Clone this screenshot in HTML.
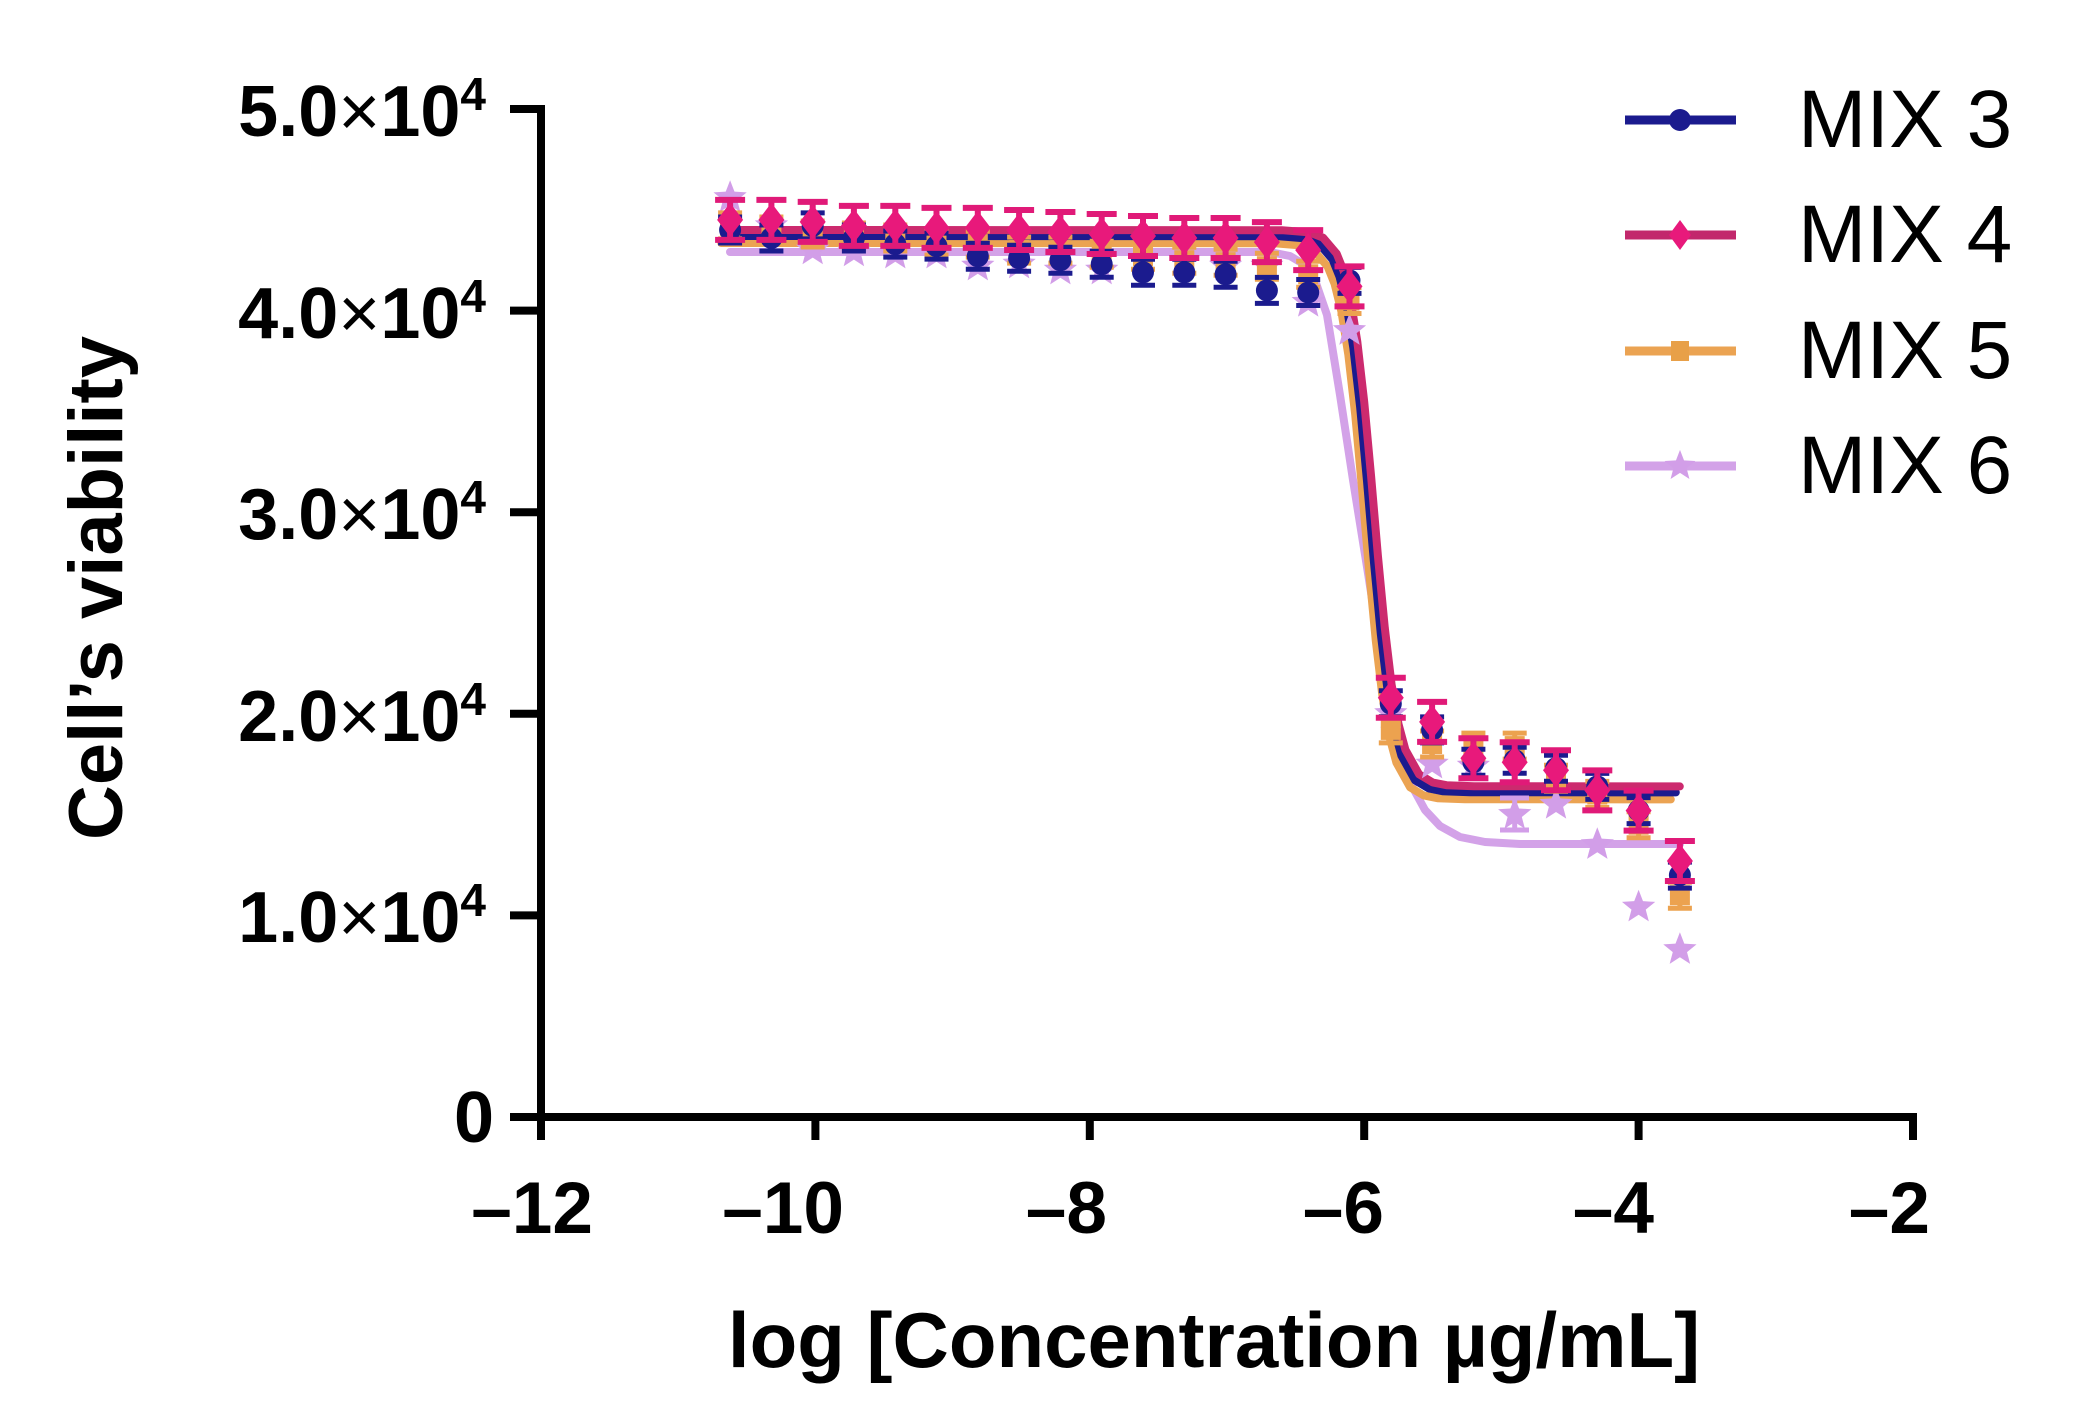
<!DOCTYPE html>
<html>
<head>
<meta charset="utf-8">
<style>
html,body{margin:0;padding:0;background:#fff;}
svg{display:block;}
text{font-family:"Liberation Sans",Arial,sans-serif;fill:#000;}
</style>
</head>
<body>
<svg width="2078" height="1427" viewBox="0 0 2078 1427" xmlns="http://www.w3.org/2000/svg">
<defs>
  <g id="m3">
    <path d="M0,-13V13M-12,-13H12M-12,13H12" stroke="#1b1b8e" stroke-width="5" fill="none"/>
    <circle r="11" fill="#1b1b8e"/>
  </g>
  <g id="m4">
    <path d="M0,-20V20M-15,-20H15M-15,20H15" stroke="#e01a78" stroke-width="6" fill="none"/>
    <path d="M0,-17L13,0L0,17L-13,0Z" fill="#e8197b"/>
  </g>
  <g id="m5">
    <path d="M0,-13V13M-12,-13H12M-12,13H12" stroke="#eca24f" stroke-width="5" fill="none"/>
    <rect x="-10" y="-10" width="20" height="20" fill="#eca24f"/>
  </g>
  <g id="m6">
    <path transform="scale(1.25)" d="M0,-14 L3.5,-4.9 L13.3,-4.3 L5.7,1.9 L8.2,11.3 L0,6 L-8.2,11.3 L-5.7,1.9 L-13.3,-4.3 L-3.5,-4.9 Z" fill="#d29ee8"/>
  </g>
  <path id="curveA" d="M730.3,230.0 L1281.9,230.2 L1309.3,232.4 L1323.0,237.6 L1336.7,253.7 L1343.6,270.9 L1350.5,298.9 L1357.3,341.6 L1364.2,401.7 L1371.1,476.3 L1377.9,555.7 L1384.8,627.9 L1391.6,684.6 L1398.5,724.1 L1405.4,749.7 L1419.1,774.3 L1432.8,782.5 L1446.5,785.2 L1474.0,786.2 L1679.8,786.4"/>
</defs>

<!-- Axes -->
<g stroke="#000" stroke-width="8" fill="none" stroke-linejoin="miter">
  <path d="M510,109 H541 V1140"/>
  <path d="M510,1117 H1913 V1140"/>
  <path d="M510,310.6 H541 M510,512.2 H541 M510,713.8 H541 M510,915.4 H541"/>
  <path d="M815.4,1117 V1140 M1089.8,1117 V1140 M1364.2,1117 V1140 M1638.6,1117 V1140"/>
</g>

<!-- Y tick labels -->
<g font-size="72" font-weight="bold" text-anchor="end">
  <text x="486" y="136">5.0<tspan font-weight="normal">×</tspan>10<tspan font-size="46" dy="-26">4</tspan></text>
  <text x="486" y="338">4.0<tspan font-weight="normal">×</tspan>10<tspan font-size="46" dy="-26">4</tspan></text>
  <text x="486" y="539">3.0<tspan font-weight="normal">×</tspan>10<tspan font-size="46" dy="-26">4</tspan></text>
  <text x="486" y="741">2.0<tspan font-weight="normal">×</tspan>10<tspan font-size="46" dy="-26">4</tspan></text>
  <text x="486" y="942">1.0<tspan font-weight="normal">×</tspan>10<tspan font-size="46" dy="-26">4</tspan></text>
  <text x="494" y="1142">0</text>
</g>

<!-- X tick labels -->
<g font-size="73" font-weight="bold" text-anchor="end">
  <text x="593" y="1233">–12</text>
  <text x="844" y="1233">–10</text>
  <text x="1107" y="1233">–8</text>
  <text x="1384" y="1233">–6</text>
  <text x="1654" y="1233">–4</text>
  <text x="1930" y="1233">–2</text>
</g>

<!-- Axis titles -->
<text x="1214" y="1367" font-size="78" font-weight="bold" text-anchor="middle">log [Concentration µg/mL]</text>
<text transform="translate(122,588) rotate(-90)" font-size="76" font-weight="bold" text-anchor="middle">Cell’s viability</text>

<!-- Curves -->
<g fill="none" stroke-width="8" stroke-linejoin="round" stroke-linecap="round">
  <polyline stroke="#d3a2e8" points="730,252 1270,252 1290,256 1305,265 1315,280 1327,315 1340,395 1353,480 1367,567 1380,650 1390,710 1400,752 1413,788 1425,810 1440,826 1460,837 1485,842 1520,844 1680,844"/>
  <use href="#curveA" stroke="#eba352" transform="translate(-9,13)"/>
  <use href="#curveA" stroke="#1b1b8e" transform="translate(-4,6)"/>
  <use href="#curveA" stroke="#cc2a6e"/>
</g>

<!-- MIX 6 points -->
<g>
  <path d="M1514.7,798 V830 M1500,798 H1529 M1500,830 H1529" stroke="#d29ee8" stroke-width="5"/>
  <use href="#m6" x="730.1" y="197.7"/>
  <use href="#m6" x="771.4" y="225.9"/>
  <use href="#m6" x="812.7" y="250.1"/>
  <use href="#m6" x="853.9" y="252.1"/>
  <use href="#m6" x="895.3" y="254.2"/>
  <use href="#m6" x="936.5" y="254.2"/>
  <use href="#m6" x="977.8" y="266.2"/>
  <use href="#m6" x="1019.1" y="264.2"/>
  <use href="#m6" x="1060.4" y="270.3"/>
  <use href="#m6" x="1101.7" y="270.3"/>
  <use href="#m6" x="1143.0" y="258.2"/>
  <use href="#m6" x="1184.3" y="260.2"/>
  <use href="#m6" x="1225.6" y="266.2"/>
  <use href="#m6" x="1266.9" y="266.2"/>
  <use href="#m6" x="1308.2" y="302.5"/>
  <use href="#m6" x="1349.5" y="330.8"/>
  <use href="#m6" x="1390.8" y="713.8"/>
  <use href="#m6" x="1432.1" y="764.2"/>
  <use href="#m6" x="1473.4" y="766.2"/>
  <use href="#m6" x="1514.7" y="814.6"/>
  <use href="#m6" x="1556.0" y="804.5"/>
  <use href="#m6" x="1597.3" y="844.8"/>
  <use href="#m6" x="1638.6" y="907.3"/>
  <use href="#m6" x="1679.9" y="949.7"/>
</g>

<!-- MIX 5 points -->
<g>
  <use href="#m5" x="730.1" y="225.9"/>
  <use href="#m5" x="771.4" y="230.0"/>
  <use href="#m5" x="812.7" y="234.0"/>
  <use href="#m5" x="853.9" y="236.0"/>
  <use href="#m5" x="895.3" y="238.0"/>
  <use href="#m5" x="936.5" y="242.1"/>
  <use href="#m5" x="977.8" y="244.1"/>
  <use href="#m5" x="1019.1" y="250.1"/>
  <use href="#m5" x="1060.4" y="250.1"/>
  <use href="#m5" x="1101.7" y="254.2"/>
  <use href="#m5" x="1143.0" y="256.2"/>
  <use href="#m5" x="1184.3" y="260.2"/>
  <use href="#m5" x="1225.6" y="262.2"/>
  <use href="#m5" x="1266.9" y="266.2"/>
  <use href="#m5" x="1308.2" y="274.3"/>
  <use href="#m5" x="1349.5" y="300.5"/>
  <use href="#m5" x="1390.8" y="729.9"/>
  <use href="#m5" x="1432.1" y="744.0"/>
  <use href="#m5" x="1473.4" y="746.1"/>
  <use href="#m5" x="1514.7" y="746.1"/>
  <use href="#m5" x="1556.0" y="778.3"/>
  <use href="#m5" x="1597.3" y="794.4"/>
  <use href="#m5" x="1638.6" y="824.7"/>
  <use href="#m5" x="1679.9" y="895.2"/>
</g>

<!-- MIX 3 points -->
<g>
  <use href="#m3" x="730.1" y="230.0"/>
  <use href="#m3" x="771.4" y="238.0"/>
  <use href="#m3" x="812.7" y="225.9"/>
  <use href="#m3" x="853.9" y="238.0"/>
  <use href="#m3" x="895.3" y="244.1"/>
  <use href="#m3" x="936.5" y="246.1"/>
  <use href="#m3" x="977.8" y="256.2"/>
  <use href="#m3" x="1019.1" y="258.2"/>
  <use href="#m3" x="1060.4" y="260.2"/>
  <use href="#m3" x="1101.7" y="264.2"/>
  <use href="#m3" x="1143.0" y="272.3"/>
  <use href="#m3" x="1184.3" y="272.3"/>
  <use href="#m3" x="1225.6" y="274.3"/>
  <use href="#m3" x="1266.9" y="290.4"/>
  <use href="#m3" x="1308.2" y="292.5"/>
  <use href="#m3" x="1349.5" y="280.4"/>
  <use href="#m3" x="1390.8" y="703.7"/>
  <use href="#m3" x="1432.1" y="729.9"/>
  <use href="#m3" x="1473.4" y="762.2"/>
  <use href="#m3" x="1514.7" y="760.2"/>
  <use href="#m3" x="1556.0" y="768.2"/>
  <use href="#m3" x="1597.3" y="786.4"/>
  <use href="#m3" x="1638.6" y="810.6"/>
  <use href="#m3" x="1679.9" y="875.1"/>
</g>

<!-- MIX 4 points -->
<g>
  <use href="#m4" x="730.1" y="219.9"/>
  <use href="#m4" x="771.4" y="219.9"/>
  <use href="#m4" x="812.7" y="221.9"/>
  <use href="#m4" x="853.9" y="225.9"/>
  <use href="#m4" x="895.3" y="225.9"/>
  <use href="#m4" x="936.5" y="227.9"/>
  <use href="#m4" x="977.8" y="227.9"/>
  <use href="#m4" x="1019.1" y="230.0"/>
  <use href="#m4" x="1060.4" y="232.0"/>
  <use href="#m4" x="1101.7" y="234.0"/>
  <use href="#m4" x="1143.0" y="236.0"/>
  <use href="#m4" x="1184.3" y="238.0"/>
  <use href="#m4" x="1225.6" y="238.0"/>
  <use href="#m4" x="1266.9" y="242.1"/>
  <use href="#m4" x="1308.2" y="250.1"/>
  <use href="#m4" x="1349.5" y="286.4"/>
  <use href="#m4" x="1390.8" y="697.7"/>
  <use href="#m4" x="1432.1" y="721.9"/>
  <use href="#m4" x="1473.4" y="758.2"/>
  <use href="#m4" x="1514.7" y="762.2"/>
  <use href="#m4" x="1556.0" y="770.2"/>
  <use href="#m4" x="1597.3" y="790.4"/>
  <use href="#m4" x="1638.6" y="810.6"/>
  <use href="#m4" x="1679.9" y="861.0"/>
</g>

<!-- Legend -->
<g stroke-width="9" fill="none">
  <line x1="1625" y1="120" x2="1736" y2="120" stroke="#1b1b8e"/>
  <line x1="1625" y1="235" x2="1736" y2="235" stroke="#c2286c"/>
  <line x1="1625" y1="351" x2="1736" y2="351" stroke="#eba352"/>
  <line x1="1625" y1="466" x2="1736" y2="466" stroke="#d3a2e8"/>
</g>
<circle cx="1680" cy="120" r="11" fill="#1b1b8e"/>
<path d="M1680,220 L1691,235 L1680,250 L1669,235 Z" fill="#e8197b"/>
<rect x="1671" y="341" width="18" height="20" fill="#e8a048"/>
<path transform="translate(1680,466) scale(1.15)" d="M0,-14 L3.5,-4.9 L13.3,-4.3 L5.7,1.9 L8.2,11.3 L0,6 L-8.2,11.3 L-5.7,1.9 L-13.3,-4.3 L-3.5,-4.9 Z" fill="#d29ee8"/>
<g font-size="82">
  <text x="1798" y="147">MIX 3</text>
  <text x="1798" y="262">MIX 4</text>
  <text x="1798" y="378">MIX 5</text>
  <text x="1798" y="493">MIX 6</text>
</g>
</svg>
</body>
</html>
